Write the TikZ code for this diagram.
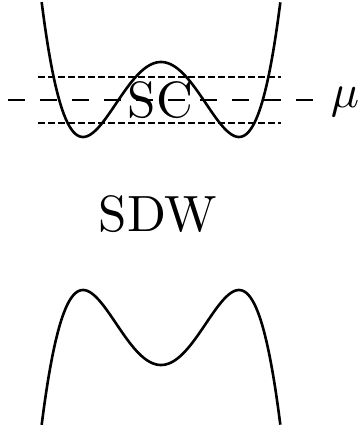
\documentclass[tikz,border=0pt]{standalone}
\begin{document}
\begin{tikzpicture}[x=1pt,y=-1pt,
  curve/.style={line width=2.6pt,line join=round},
  thindash/.style={line width=2.2pt,dash pattern=on 7pt off 3pt},
  longdash/.style={line width=2.2pt,dash pattern=on 17pt off 15pt},
  bigtext/.style={inner sep=0pt}]
\useasboundingbox (0,0) rectangle (359,433);
% top double well
\draw[curve] plot[domain=-1.53:1.53,samples=121,smooth] ({161+78*\x},{137-75*(\x*\x-1)*(\x*\x-1)});
% bottom inverted well
\draw[curve] plot[domain=-1.53:1.53,samples=121,smooth] ({161+78*\x},{290+75*(\x*\x-1)*(\x*\x-1)});
% dashed levels
\coordinate (ua) at (38,77);   \coordinate (ub) at (281,77);
\coordinate (la) at (38,123); \coordinate (lb) at (281,123);
\coordinate (ma) at (8,100);   \coordinate (mb) at (313,100);
\draw[thindash] (ua) -- (ub);
\draw[thindash] (la) -- (lb);
\draw[longdash] (ma) -- (mb);
% labels
\node[bigtext] (sc) at (160.5,100.5) {\scalebox{5.1}{SC}};
\node[bigtext] (sdw) at (158,214) {\scalebox{5.1}{SDW}};
\node[bigtext] (mu) at (345,101.5) {\scalebox{4.7}{$\mu$}};
\end{tikzpicture}
\end{document}
